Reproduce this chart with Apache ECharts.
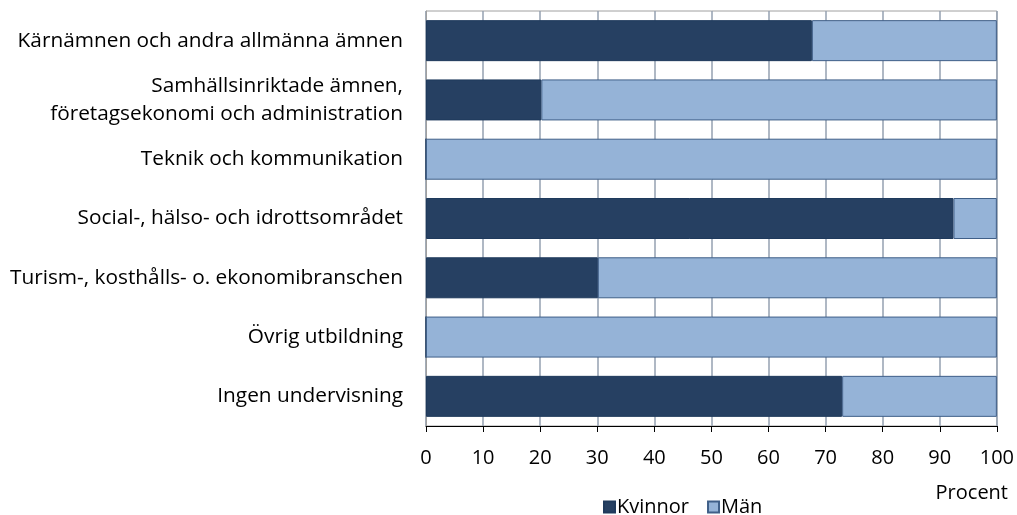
<!DOCTYPE html>
<html><head><meta charset="utf-8">
<script src="https://cdn.jsdelivr.net/npm/echarts@6/dist/echarts.min.js"></script>
<style>html,body{margin:0;padding:0;background:#fff}#c{width:1017px;height:515px}</style>
</head><body><div id="c"></div>
<script>
const categories = [
  "Kärnämnen och andra allmänna ämnen",
  "Samhällsinriktade ämnen,\nföretagsekonomi och administration",
  "Teknik och kommunikation",
  "Social-, hälso- och idrottsområdet",
  "Turism-, kosthålls- o. ekonomibranschen",
  "Övrig utbildning",
  "Ingen undervisning"
];
const kvinnor = [67.6, 20.2, 0, 92.4, 30.1, 0, 72.9];
const man = [32.4, 79.8, 100, 7.6, 69.9, 100, 27.1];
const FONT = "Open Sans";
const chart = echarts.init(document.getElementById('c'), null, {renderer:'canvas'});
chart.setOption({
  animation:false,
  textStyle:{fontFamily:FONT},
  grid:{left:426, right:20, top:11, bottom:89, show:true, borderColor:'#a0a0a0', borderWidth:1},
  xAxis:{type:'value', min:0, max:100, interval:10,
    axisLine:{show:true, lineStyle:{color:'#000', width:1}},
    axisTick:{show:true, length:6, inside:false, lineStyle:{color:'#000'}},
    axisLabel:{color:'#000', fontSize:20, margin:22, fontFamily:FONT},
    splitLine:{show:true, lineStyle:{color:'#95a0b0', width:1.5}}
  },
  yAxis:{type:'category', data:categories, inverse:true,
    axisLine:{show:true, lineStyle:{color:'#a0a0a0'}},
    axisTick:{show:false},
    axisLabel:{color:'#000', fontSize:20.8, margin:23, lineHeight:28, align:'right', fontFamily:FONT}
  },
  legend:{top:497, left:603, padding:0, itemWidth:11, itemHeight:11, itemGap:18, icon:'rect',
    data:['Kvinnor','Män'], textStyle:{fontSize:20, color:'#000', fontFamily:FONT, padding:[0,0,0,-3]}},
  graphic:[{type:'text', x:1008, y:493, style:{text:'Procent', fontSize:20, fill:'#000', fontFamily:FONT, textAlign:'right', textVerticalAlign:'middle'}}],
  series:[
    {name:'Kvinnor', type:'bar', stack:'a', data:kvinnor, barWidth:41,
      itemStyle:{color:'#264062', borderColor:'#1f3a5c', borderWidth:1}},
    {name:'Män', type:'bar', stack:'a', data:man, barWidth:41,
      itemStyle:{color:'#95b3d7', borderColor:'#3f5f88', borderWidth:1}}
  ]
});
</script></body></html>
